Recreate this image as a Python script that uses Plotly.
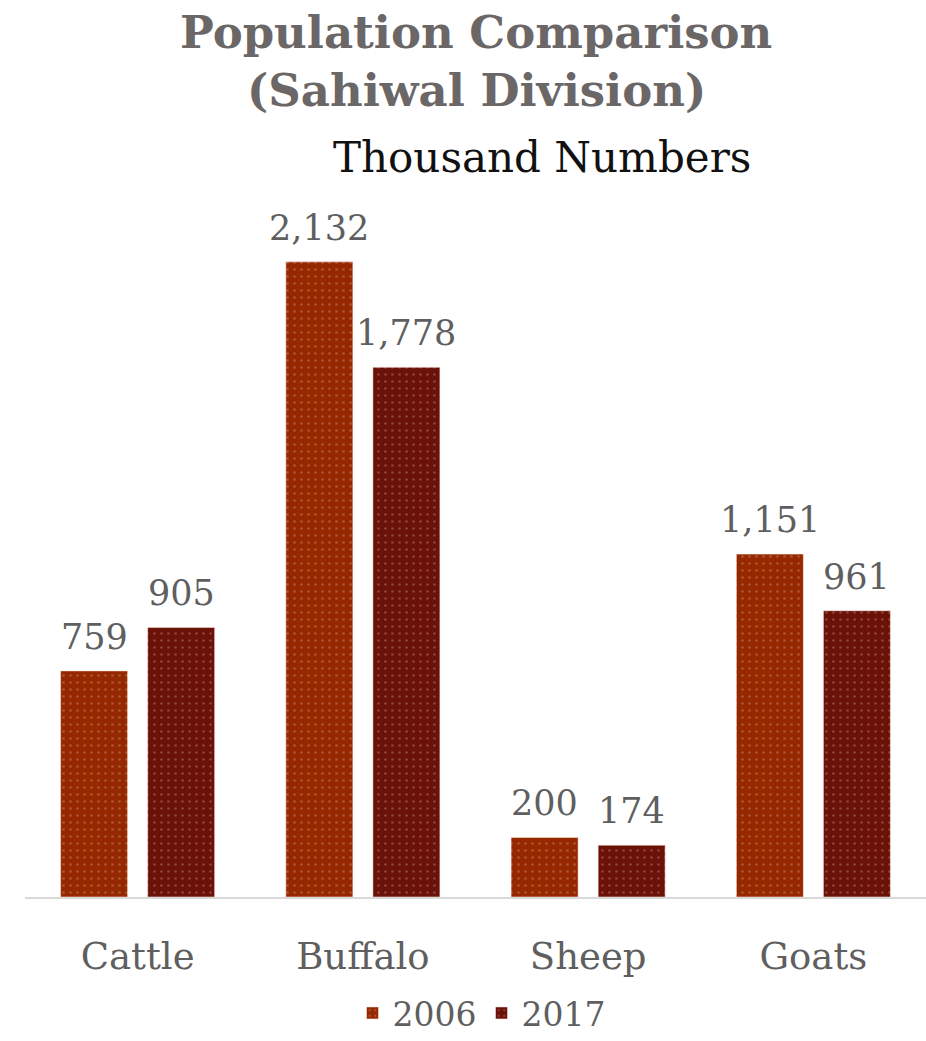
import plotly.graph_objects as go

# Livestock population, Sahiwal Division (thousand head)
categories = ["Cattle", "Buffalo", "Sheep", "Goats"]
pop_2006 = [759, 2132, 200, 1151]
pop_2017 = [905, 1778, 174, 961]

FONT = "DejaVu Serif"
GREY = "#5f5f5f"
W, H = 926, 1041
ML, MR, MT, MB = 25, 0, 182, 144
BARGAP, GROUPGAP = 0.227, 0.23

series = [("2006", pop_2006, "#962800"), ("2017", pop_2017, "#6a1108")]

fig = go.Figure()
for name, vals, col in series:
    fig.add_trace(go.Bar(
        name=name, x=categories, y=vals,
        marker=dict(
            color=col,
            line=dict(color="rgba(255,235,225,0.55)", width=1),
            pattern=dict(shape=".", fgcolor="rgba(255,235,225,0.45)",
                         size=7, solidity=0.12),
        ),
        hovertemplate="%{x}: %{y:,}<extra>" + name + "</extra>",
    ))

# value labels above each bar, offset to the bar's slot within its group
slot_px = (W - ML - MR) / len(categories) * (1 - BARGAP) / len(series)
annotations = []
for i, (name, vals, col) in enumerate(series):
    for cat, v in zip(categories, vals):
        annotations.append(dict(
            x=cat, y=v, xref="x", yref="y", text=f"{v:,}", showarrow=False,
            xshift=(i - (len(series) - 1) / 2) * slot_px, yshift=12,
            yanchor="bottom", font=dict(family=FONT, size=35, color=GREY),
        ))

# header lines, placed by pixel offset from the top of the page
plot_h = H - MT - MB
plot_w = W - ML - MR
for text, cx, cy, size, color in [
    ("<b>Population Comparison</b>", 476, 32, 45, "#6b6767"),
    ("<b>(Sahiwal Division)</b>", 476, 90, 45, "#6b6767"),
    ("Thousand Numbers", 542, 158, 42, "#111111"),
]:
    annotations.append(dict(
        text=text, xref="paper", yref="paper", showarrow=False,
        x=(cx - ML) / plot_w, y=1 + (MT - cy) / plot_h,
        xanchor="center", yanchor="middle",
        font=dict(family=FONT, size=size, color=color),
    ))

fig.update_layout(
    width=W, height=H,
    margin=dict(l=ML, r=MR, t=MT, b=MB, autoexpand=False),
    paper_bgcolor="white", plot_bgcolor="white",
    barmode="group", bargap=BARGAP, bargroupgap=GROUPGAP,
    showlegend=True,
    legend=dict(orientation="h", xref="container", yref="container",
                x=0.52, xanchor="center", y=0.0, yanchor="bottom",
                font=dict(family=FONT, size=33, color=GREY),
                traceorder="normal"),
    xaxis=dict(showline=True, linecolor="#d9d9d9", linewidth=1.5,
               tickfont=dict(family=FONT, size=37, color=GREY),
               ticks="", ticklabelstandoff=26, showgrid=False),
    yaxis=dict(range=[0, 2400], visible=False, showgrid=False, zeroline=False),
    annotations=annotations,
)

fig.write_html("out.html")
